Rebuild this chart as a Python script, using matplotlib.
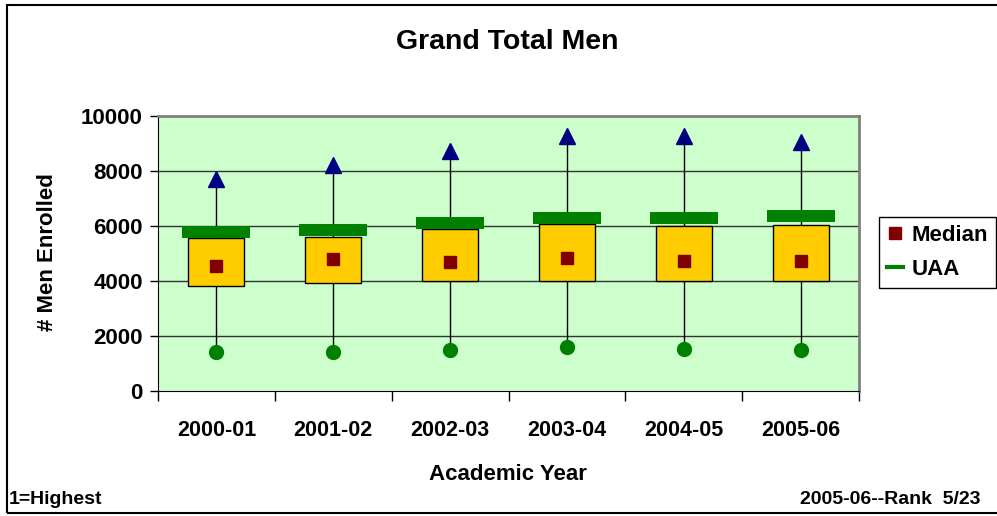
import numpy as np
import matplotlib
matplotlib.use('Agg')
import matplotlib.pyplot as plt
from matplotlib.lines import Line2D
from matplotlib.patches import Rectangle

plt.rcParams['font.family'] = ['Liberation Sans', 'DejaVu Sans']
plt.rcParams['font.weight'] = 'bold'

# Data
years = ['2000-01', '2001-02', '2002-03', '2003-04', '2004-05', '2005-06']
max_vals = [7700, 8220, 8730, 9270, 9270, 9050]
q3_vals = [5560, 5600, 5890, 6070, 6000, 6040]
median_vals = [4550, 4800, 4690, 4840, 4730, 4730]
q1_vals = [3820, 3930, 4000, 4000, 4000, 4000]
min_vals = [1420, 1420, 1490, 1600, 1530, 1490]
uaa_vals = [5780, 5850, 6110, 6290, 6290, 6360]

fig = plt.figure(figsize=(9.97, 5.16), dpi=100)
fig.patch.set_facecolor('white')

# outer chart frame
fig.add_artist(Rectangle((7/997, 3/516), 1.2, 1 - 8/516, transform=fig.transFigure,
                         fill=False, edgecolor='black', linewidth=1.5))

ax = fig.add_axes([158/997, 1 - 391/516, (859 - 158)/997, (391 - 116)/516])
ax.set_facecolor('#CCFFCC')

x = np.arange(len(years))

# whiskers min -> max
ax.vlines(x, min_vals, max_vals, color='black', linewidth=1, zorder=2)

# boxes q1 -> q3
ax.bar(x, np.array(q3_vals) - np.array(q1_vals), bottom=q1_vals, width=0.48,
       color='#FFCC00', edgecolor='black', linewidth=1, zorder=3)

# UAA marker
ax.plot(x, uaa_vals, linestyle='none', marker='_', markersize=49,
        markeredgewidth=8.6, color='#008000', zorder=4)

# median
ax.plot(x, median_vals, linestyle='none', marker='s', markersize=9,
        color='#800000', zorder=5)

# max / min
ax.plot(x, max_vals, linestyle='none', marker='^', markersize=11,
        color='#000080', zorder=5, clip_on=False)
ax.plot(x, min_vals, linestyle='none', marker='o', markersize=10,
        color='#008000', zorder=5)

ax.set_xlim(-0.5, len(years) - 0.5)
ax.set_ylim(0, 10000)
ax.set_yticks(np.arange(0, 10001, 2000))
ax.set_yticklabels([str(v) for v in range(0, 10001, 2000)])
for v in range(2000, 10000, 2000):
    ax.axhline(v, color='#333333', linewidth=1, zorder=1)

ax.set_xticks(x)
ax.set_xticklabels(years)
ax.set_xticks(np.arange(-0.5, len(years), 1), minor=True)
ax.tick_params(axis='x', which='major', length=0, pad=21, labelsize=15.5)
ax.tick_params(axis='x', which='minor', length=7, direction='out', width=1)
ax.tick_params(axis='y', length=6, direction='out', width=1, pad=5, labelsize=16)

for s in ['top', 'right']:
    ax.spines[s].set_color('#808080')
    ax.spines[s].set_linewidth(2)
ax.spines['left'].set_color('black')
ax.spines['bottom'].set_color('black')

fig.text(507/997, 1 - 42/516, 'Grand Total Men', ha='center', va='center',
         fontsize=20.5, fontweight='bold')
fig.text(48/997, 1 - 252/516, '# Men Enrolled', ha='center', va='center',
         rotation=90, fontsize=16, fontweight='bold')
fig.text(508/997, 1 - 474/516, 'Academic Year', ha='center', va='center',
         fontsize=16, fontweight='bold')

fig.text(9/997, 1 - 500/516, '1=Highest', ha='left', va='center',
         fontsize=14, fontweight='bold')
fig.text(980/997, 1 - 500/516, '2005-06--Rank  5/23', ha='right', va='center',
         fontsize=14, fontweight='bold')

handles = [Line2D([], [], linestyle='none', marker='s', markersize=9, color='#800000'),
           Line2D([], [], color='#008000', linewidth=3)]
leg = fig.legend(handles, ['Median', 'UAA'], loc='upper left',
                 bbox_to_anchor=(879/997, 1 - 217/516), borderaxespad=0,
                 fancybox=False, edgecolor='black', framealpha=1,
                 handlelength=0.75, handletextpad=0.35, borderpad=0.35,
                 labelspacing=0.6, fontsize=16)
for t in leg.get_texts():
    t.set_fontweight('bold')
leg.get_frame().set_linewidth(1)

fig.savefig('out.png', dpi=100)
